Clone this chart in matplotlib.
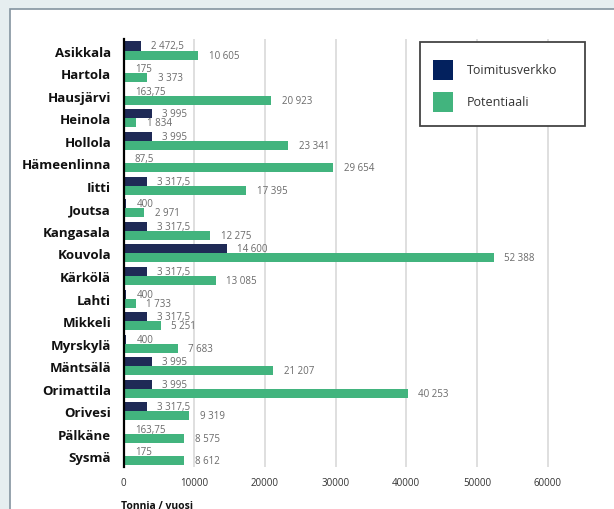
import matplotlib
matplotlib.use("Agg")
import matplotlib.pyplot as plt
from matplotlib.patches import Rectangle
from matplotlib.transforms import Affine2D
import numpy as np

plt.rcParams['font.family'] = ['Open Sans', 'DejaVu Sans']

kunnat = ["Asikkala", "Hartola", "Hausjärvi", "Heinola", "Hollola", "Hämeenlinna",
          "Iitti", "Joutsa", "Kangasala", "Kouvola", "Kärkölä", "Lahti", "Mikkeli",
          "Myrskylä", "Mäntsälä", "Orimattila", "Orivesi", "Pälkäne", "Sysmä"]
toimitusverkko = [2472.5, 175, 163.75, 3995, 3995, 87.5, 3317.5, 400, 3317.5, 14600,
                  3317.5, 400, 3317.5, 400, 3995, 3995, 3317.5, 163.75, 175]
potentiaali = [10605, 3373, 20923, 1834, 23341, 29654, 17395, 2971, 12275, 52388,
               13085, 1733, 5251, 7683, 21207, 40253, 9319, 8575, 8612]
x_ticks = [0, 10000, 20000, 30000, 40000, 50000, 60000]
sarjat = ["Toimitusverkko", "Potentiaali"]

NAVY = "#1f2a56"
NAVY_KEY = "#03215e"
GREEN = "#42b47e"
W, H = 614, 510


def fi(v):
    s = f"{v:,.2f}".rstrip("0").rstrip(".")
    return s.replace(",", " ").replace(".", ",")


fig = plt.figure(figsize=(W / 100, H / 100), dpi=100, facecolor="#e6eef0")
px = Affine2D().scale(1 / W, -1 / H).translate(0, 1) + fig.transFigure

# white card behind the chart
fig.patches.append(Rectangle((9.5, 9.5), W, H, transform=px, facecolor="white",
                             edgecolor="#8494a0", linewidth=1.2, zorder=-5))

ax = fig.add_axes([123.5 / W, 1 - 468 / H, 466.5 / W, 428 / H])
ax.set_zorder(1)
ax.set_facecolor("none")
y = np.arange(len(kunnat))
h = 0.4
ax.barh(y - h / 2, toimitusverkko, height=h, color=NAVY, zorder=3)
ax.barh(y + h / 2, potentiaali, height=h, color=GREEN, zorder=3)

for yi, a, b in zip(y, toimitusverkko, potentiaali):
    ax.annotate(fi(a), (a, yi - h / 2), xytext=(7.5, 0), textcoords="offset points",
                va="center", ha="left", fontsize=7, color="#6a6a6a")
    ax.annotate(fi(b), (b, yi + h / 2), xytext=(7.5, 0), textcoords="offset points",
                va="center", ha="left", fontsize=7, color="#6a6a6a")

ax.set_xlim(0, 66000)
ax.set_ylim(len(kunnat) - 0.53, -0.51)
ax.set_xticks(x_ticks)
ax.set_xticklabels([str(t) for t in x_ticks], fontsize=7, color="#333333")
ax.set_yticks(y)
ax.set_yticklabels(kunnat, fontsize=9.5, fontweight="bold", color="#111111")
ax.tick_params(axis="both", length=0)
ax.tick_params(axis="x", pad=7)
ax.tick_params(axis="y", pad=9)
ax.grid(axis="x", color="#dcdcdc", linewidth=1.3, zorder=0)
for side in ["top", "right", "bottom"]:
    ax.spines[side].set_visible(False)
ax.spines["left"].set_color("black")
ax.spines["left"].set_linewidth(1.6)
ax.spines["left"].set_zorder(4)

fig.text(121, 501, "Tonnia / vuosi", transform=px, fontsize=7.5, fontweight="bold",
         color="#111111", ha="left", va="top")

# legend box
fig.patches.append(Rectangle((420, 43), 165, 84, transform=px, facecolor="white",
                             edgecolor="#444444", linewidth=1.3, zorder=5))
for i, (name, col) in enumerate(zip(sarjat, [NAVY_KEY, GREEN])):
    top = 61 + i * 32
    fig.patches.append(Rectangle((433, top), 20, 20, transform=px, facecolor=col,
                                 edgecolor="none", zorder=6))
    fig.text(467, top + 10, name, transform=px, fontsize=9, color="#333333",
             ha="left", va="center", zorder=7)

fig.savefig("out.png", dpi=100, facecolor=fig.get_facecolor())
